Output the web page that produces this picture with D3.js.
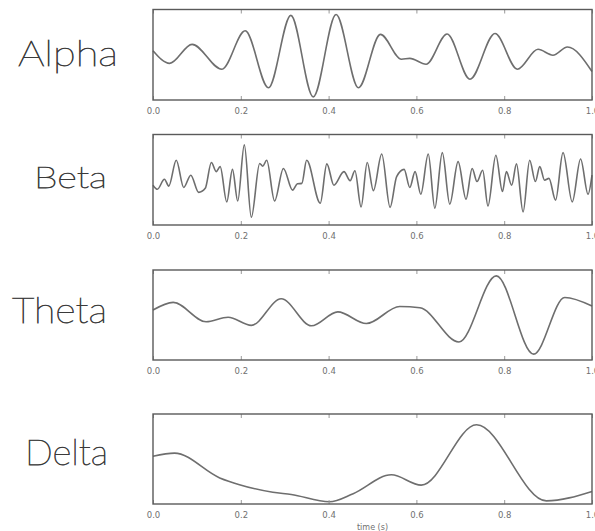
<!DOCTYPE html>
<html>
<head>
<meta charset="utf-8">
<script src="https://cdn.jsdelivr.net/npm/d3@7"></script>
<style>
    body { margin: 0; background: #fff; }
    .wave-name { font-family: "Lato", "Open Sans", sans-serif; font-weight: 100; fill: #3a3a3a; stroke: #3a3a3a; stroke-width: 0.75px; }
    .tick-label { font-family: "DejaVu Sans", sans-serif; font-size: 8.5px; fill: #707070; }
</style>
</head>
<body>
<script>
const WIDTH = 595
const HEIGHT = 531

const FRAME = { left: 153, right: 592 }

// [time, amplitude], amplitude scaled to the frame (-1..1)
const alpha = [
    [0, 0.09], [0.038, -0.19], [0.089, 0.23], [0.157, -0.32], [0.21, 0.53],
    [0.263, -0.73], [0.314, 0.87], [0.365, -0.93], [0.417, 0.89], [0.468, -0.73],
    [0.518, 0.45], [0.566, -0.10], [0.585, -0.08], [0.622, -0.21], [0.670, 0.46],
    [0.722, -0.54], [0.779, 0.47], [0.830, -0.32], [0.877, 0.12], [0.911, -0.01],
    [0.944, 0.17], [1, -0.37]
]

const beta = [
    [0, -0.12], [0.010, -0.21], [0.026, 0.01], [0.036, -0.14], [0.053, 0.43],
    [0.070, -0.17], [0.086, 0.10], [0.104, -0.28], [0.119, -0.19], [0.133, 0.38],
    [0.144, 0.18], [0.153, 0.29], [0.168, -0.49], [0.181, 0.23], [0.193, -0.47],
    [0.208, 0.77], [0.224, -0.83], [0.243, 0.36], [0.250, 0.30], [0.259, 0.43],
    [0.277, -0.47], [0.297, 0.25], [0.318, -0.23], [0.329, -0.09], [0.339, -0.08],
    [0.350, 0.43], [0.381, -0.52], [0.396, 0.35], [0.412, -0.12], [0.435, 0.18],
    [0.449, -0.02], [0.460, 0.20], [0.474, -0.60], [0.488, 0.38], [0.502, -0.24],
    [0.521, 0.57], [0.540, -0.61], [0.555, 0.07], [0.572, 0.23], [0.585, -0.17],
    [0.597, 0.18], [0.610, -0.32], [0.627, 0.57], [0.642, -0.63], [0.659, 0.60],
    [0.676, -0.54], [0.695, 0.40], [0.713, -0.43], [0.727, 0.25], [0.738, -0.04],
    [0.751, 0.21], [0.763, -0.58], [0.781, 0.54], [0.796, -0.26], [0.805, 0.18],
    [0.817, -0.12], [0.828, 0.35], [0.843, -0.71], [0.858, 0.43], [0.871, -0.04],
    [0.881, 0.29], [0.892, -0.01], [0.902, 0.03], [0.917, -0.45], [0.934, 0.60],
    [0.955, -0.49], [0.974, 0.46], [0.991, -0.32], [1, 0.10]
]

const theta = [
    [0, 0.11], [0.046, 0.28], [0.121, -0.15], [0.171, -0.05], [0.224, -0.23],
    [0.292, 0.36], [0.361, -0.24], [0.421, 0.07], [0.486, -0.19], [0.562, 0.19],
    [0.608, 0.16], [0.697, -0.60], [0.782, 0.87], [0.867, -0.87], [0.938, 0.39],
    [1, 0.20]
]

const delta = [
    [0, 0.06], [0.049, 0.13], [0.152, -0.42], [0.197, -0.57],
    [0.273, -0.74], [0.315, -0.79], [0.402, -0.95], [0.456, -0.77], [0.543, -0.35],
    [0.611, -0.58], [0.737, 0.76], [0.896, -0.93], [1, -0.72]
]

const xTicks = [0, 0.2, 0.4, 0.6, 0.8, 1.0]

const panels = [
    { name: "Alpha", data: alpha, top: 9.5, bottom: 100, labelX: 18, labelY: 66, size: 36, len: 100 },
    { name: "Beta", data: beta, top: 134.5, bottom: 225, labelX: 34, labelY: 188, size: 30, len: 73 },
    { name: "Theta", data: theta, top: 270, bottom: 360, labelX: 12, labelY: 323, size: 36, len: 95 },
    { name: "Delta", data: delta, top: 414, bottom: 504, labelX: 25, labelY: 465, size: 35, len: 83 }
]

const svg = d3.select("body")
    .append("svg")
    .attr("width", WIDTH)
    .attr("height", HEIGHT)

const xScale = d3.scaleLinear()
    .domain([0, 1])
    .range([FRAME.left, FRAME.right])

panels.forEach(p => {
    const yScale = d3.scaleLinear()
        .domain([-1, 1])
        .range([p.bottom, p.top])

    const g = svg.append("g")

    g.append("text")
        .attr("class", "wave-name")
        .attr("x", p.labelX)
        .attr("y", p.labelY)
        .attr("textLength", p.len)
        .attr("lengthAdjust", "spacingAndGlyphs")
        .style("font-size", p.size + "px")
        .text(p.name)

    const line = d3.line()
        .x(d => xScale(d[0]))
        .y(d => yScale(d[1]))
        .curve(d3.curveMonotoneX)

    g.append("path")
        .datum(p.data)
        .attr("d", line)
        .attr("fill", "none")
        .attr("stroke", "#6e6e6e")
        .attr("stroke-width", 1.6)

    // inward ticks, matplotlib style
    const bottomAxis = d3.axisBottom(xScale)
        .tickValues(xTicks)
        .tickSizeInner(-4)
        .tickSizeOuter(0)
        .tickPadding(8)
        .tickFormat(d3.format(".1f"))

    const ax = g.append("g")
        .attr("transform", "translate(0," + p.bottom + ")")
        .call(bottomAxis)
    ax.select(".domain").remove()
    ax.selectAll("line").attr("stroke", "#999")
    ax.selectAll("text")
        .attr("class", "tick-label")
        .attr("fill", null)
        .attr("font-family", null)
        .attr("font-size", null)

    const topAxis = d3.axisTop(xScale)
        .tickValues(xTicks)
        .tickSizeInner(-4)
        .tickSizeOuter(0)
        .tickFormat("")
    const tx = g.append("g")
        .attr("transform", "translate(0," + p.top + ")")
        .call(topAxis)
    tx.select(".domain").remove()
    tx.selectAll("line").attr("stroke", "#999")

    g.append("rect")
        .attr("x", FRAME.left)
        .attr("y", p.top)
        .attr("width", FRAME.right - FRAME.left)
        .attr("height", p.bottom - p.top)
        .attr("fill", "none")
        .attr("stroke", "#5a5a5a")
        .attr("stroke-width", 1.4)
})

svg.append("text")
    .attr("class", "tick-label")
    .attr("x", xScale(0.5))
    .attr("y", 530)
    .attr("text-anchor", "middle")
    .style("font-size", "8px")
    .text("time (s)")
</script>
</body>
</html>
